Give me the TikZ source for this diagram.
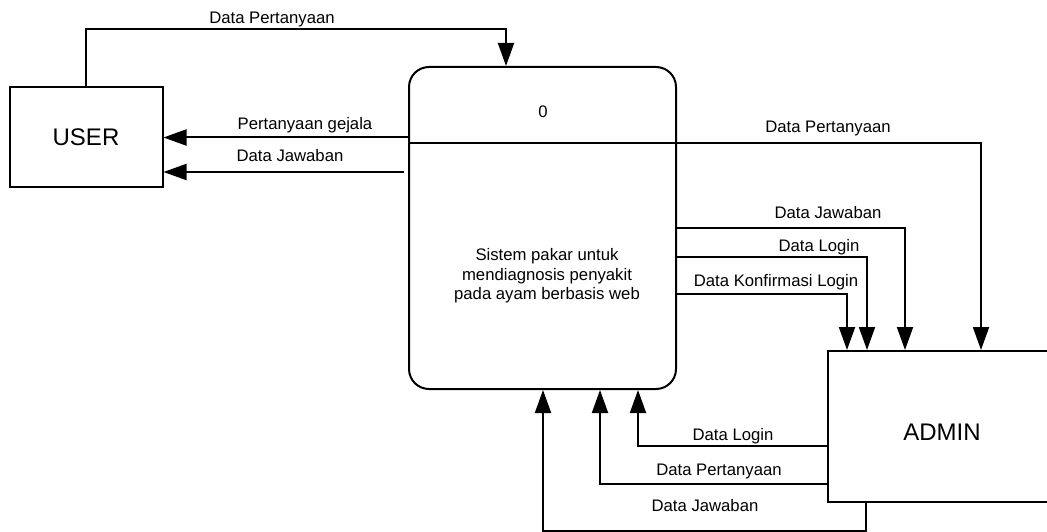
\documentclass[tikz,border=0pt]{standalone}
\usepackage{fontspec}
\setmainfont{Liberation Sans}
\usetikzlibrary{arrows.meta,calc}
\begin{document}
\begin{tikzpicture}[x=1pt,y=-1pt,line width=2pt,
  lbl/.style={font=\fontsize{16.7}{19.5}\selectfont,inner sep=0pt,text height=12pt,text depth=0pt},
  arr/.style={-{Triangle[length=23pt,width=16pt]}},
  ent/.style={draw,rectangle,font=\fontsize{24}{28}\selectfont,inner sep=0pt}]
\useasboundingbox (0,0) rectangle (1047,532);
% entities and process
\node[ent,minimum width=153pt,minimum height=100pt] (USER) at (86,137) {USER};
\node[draw,rounded corners=20pt,minimum width=267pt,minimum height=322pt,inner sep=0pt] (proc) at (542.5,228) {};
\node[lbl] (num) at (543,112) {0};
\node[font=\fontsize{16.7}{19.5}\selectfont,align=center,inner sep=0pt] (ptext) at (547,276) {Sistem pakar untuk\\mendiagnosis penyakit\\pada ayam berbasis web};
\node[ent,minimum width=228pt,minimum height=151pt,text height=27pt,text depth=0pt] (ADMIN) at (942,426.5) {ADMIN};
% helper coordinates
\coordinate (yTop) at (0,29);
\coordinate (yPG) at (0,137.5);
\coordinate (yDiv) at (0,143);
\coordinate (yDJL) at (0,172);
\coordinate (yDJR) at (0,228);
\coordinate (yDLR) at (0,257);
\coordinate (yDKL) at (0,294);
\coordinate (xTop) at (506,0);
\coordinate (xDP) at (981,0);
\coordinate (xDJ) at (905,0);
\coordinate (xDL) at (867,0);
\coordinate (xDK) at (847,0);
\coordinate (bDL) at (638,446);
\coordinate (bDP) at (600,484);
\coordinate (bDJ) at (543,531);
\coordinate (xAJ) at (866,0);
% divider
\draw (proc.west |- yDiv) -- (proc.east |- yDiv);
% USER connectors
\draw[arr] (USER.north) -- (USER.north |- yTop) -| (proc.north -| xTop);
\draw[arr] (proc.west |- yPG) -- (USER.east |- yPG);
\draw[arr] ([xshift=-4pt]proc.west |- yDJL) -- (USER.east |- yDJL);
% process to ADMIN
\draw[arr] (proc.east |- yDiv) -| (ADMIN.north -| xDP);
\draw[arr] (proc.east |- yDJR) -| (ADMIN.north -| xDJ);
\draw[arr] (proc.east |- yDLR) -| (ADMIN.north -| xDL);
\draw[arr] (proc.east |- yDKL) -| (ADMIN.north -| xDK);
% ADMIN to process
\draw[arr] (ADMIN.west |- bDL) -| (proc.south -| bDL);
\draw[arr] (ADMIN.west |- bDP) -| (proc.south -| bDP);
\draw[arr] (ADMIN.south -| xAJ) -- (xAJ |- bDJ) -| (proc.south -| bDJ);
% labels
\node[lbl] (l1) at (272,18) {Data Pertanyaan};
\node[lbl] (l2) at (305,124) {Pertanyaan gejala};
\node[lbl] (l3) at (290,156) {Data Jawaban};
\node[lbl] (l4) at (828,127) {Data Pertanyaan};
\node[lbl] (l5) at (828,212) {Data Jawaban};
\node[lbl] (l6) at (819,245) {Data Login};
\node[lbl] (l7) at (776,280) {Data Konfirmasi Login};
\node[lbl] (l8) at (733,434) {Data Login};
\node[lbl] (l9) at (719,469) {Data Pertanyaan};
\node[lbl] (l10) at (705,505) {Data Jawaban};
\end{tikzpicture}
\end{document}
